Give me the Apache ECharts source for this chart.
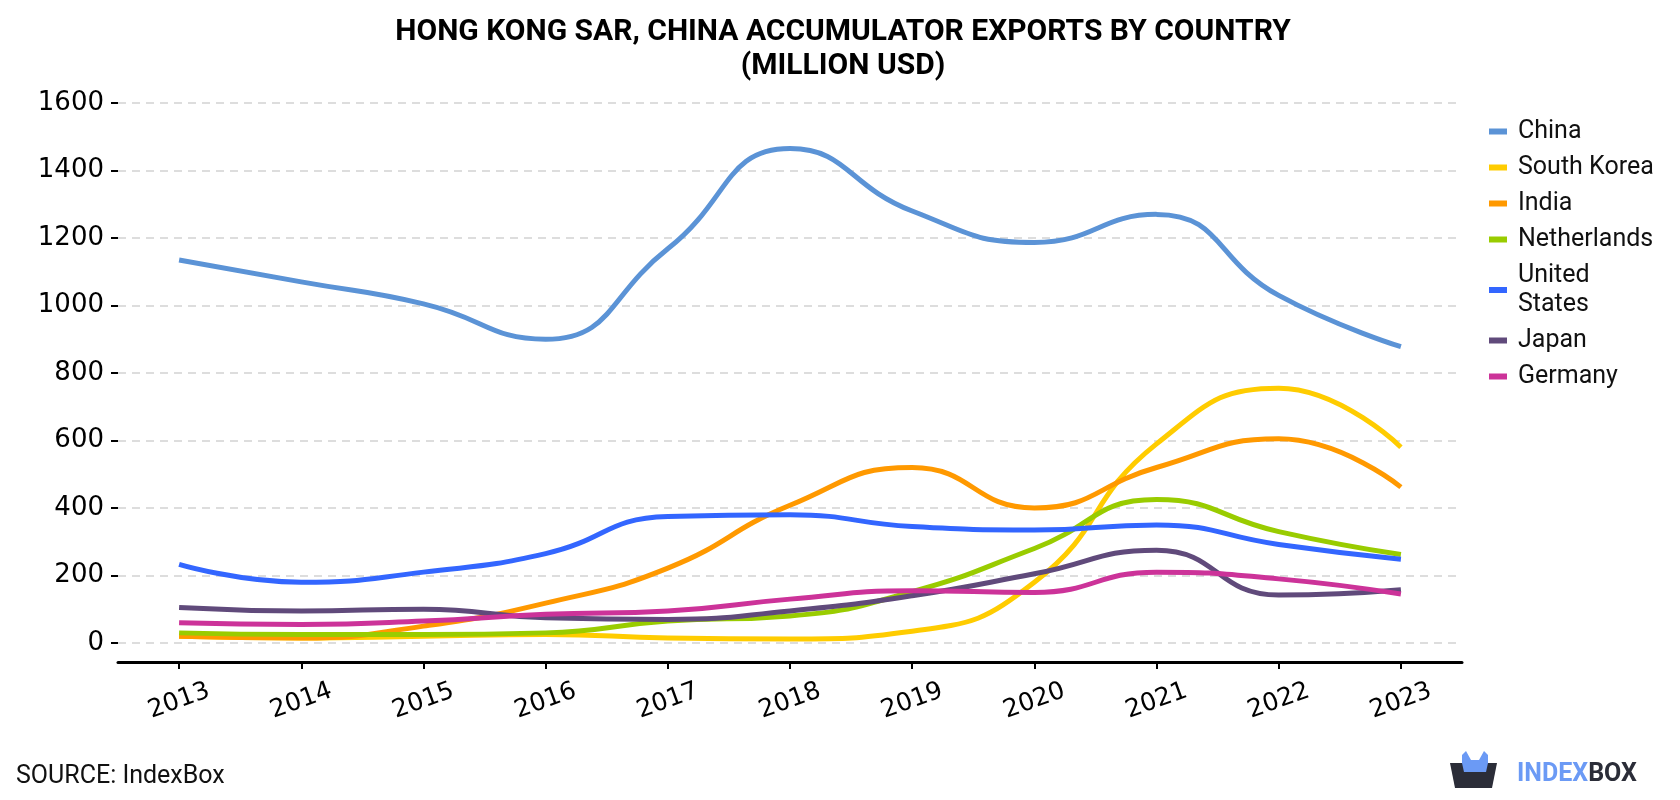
<!DOCTYPE html>
<html><head><meta charset="utf-8">
<script src="https://cdn.jsdelivr.net/npm/echarts@6/dist/echarts.min.js"></script>
<style>html,body{margin:0;padding:0;background:#fff}#c{width:1680px;height:800px}</style>
</head><body><div id="c"></div>
<script>
const years = ['2013','2014','2015','2016','2017','2018','2019','2020','2021','2022','2023'];
const yTicks = [0,200,400,600,800,1000,1200,1400,1600];
const china       = [1135,1070,1005,900,1168,1465,1280,1187,1270,1030,878];
const southKorea  = [20,15,20,25,15,12,35,180,590,755,580];
const india       = [20,15,50,118,222,408,520,400,520,605,462];
const netherlands = [30,25,25,30,65,80,152,280,425,330,262];
const us          = [233,180,210,265,375,380,345,335,350,292,248];
const japan       = [105,95,100,75,70,95,140,205,275,142,158];
const germany     = [60,55,65,85,95,130,155,150,210,190,145];

const seriesDefs = [
  ['China', china, '#5b93d6'],
  ['South Korea', southKorea, '#ffcc00'],
  ['India', india, '#ff9900'],
  ['Netherlands', netherlands, '#99cc00'],
  ['United States', us, '#3366ff'],
  ['Japan', japan, '#604a7b'],
  ['Germany', germany, '#cc3399']
];

const chart = echarts.init(document.getElementById('c'), null, {renderer:'canvas'});
chart.setOption({
  backgroundColor:'#fff',
  animation:false,
  title:{
    text:'HONG KONG SAR, CHINA ACCUMULATOR EXPORTS BY COUNTRY\n(MILLION USD)',
    left:838, top:10, textAlign:'center',
    textStyle:{fontFamily:'Roboto', fontWeight:'bold', fontSize:30, lineHeight:34, color:'#000'}
  },
  legend:{
    orient:'vertical', left:1484, top:112, itemWidth:18, itemHeight:6, itemGap:7,
    icon:'rect',
    formatter: n => n.replace(' States','\nStates'),
    textStyle:{fontFamily:'Roboto', fontSize:25, lineHeight:29, color:'#111', padding:[0,0,0,6]},
    data: seriesDefs.map(s=>s[0])
  },
  grid:{left:118, right:218, top:103, bottom:157, containLabel:false},
  xAxis:{
    type:'category', data:years, boundaryGap:true, offset:19,
    axisLine:{show:true, onZero:false, lineStyle:{color:'#000', width:3}},
    axisTick:{show:true, alignWithLabel:true, length:7, lineStyle:{color:'#000', width:2}},
    axisLabel:{rotate:20, align:'center', verticalAlign:'middle', fontFamily:'DejaVu Sans', fontSize:25, color:'#000', margin:39},
    splitLine:{show:false}
  },
  yAxis:{
    type:'value', min:yTicks[0], max:yTicks[yTicks.length-1], interval:200,
    axisLine:{show:false},
    axisTick:{show:true, length:7, lineStyle:{color:'#000', width:2}},
    axisLabel:{fontFamily:'DejaVu Sans', fontSize:26, color:'#000', margin:14, formatter: v => String(v)},
    splitLine:{show:true, lineStyle:{color:'#dddddd', width:2, type:[8,6]}}
  },
  series: seriesDefs.map(s=>({
    name:s[0], type:'line', data:s[1], smooth:0.5, symbol:'none',
    lineStyle:{color:s[2], width:5}, itemStyle:{color:s[2]}
  })),
  graphic:[
    {type:'text', left:16, top:764, style:{text:'SOURCE: IndexBox', fontFamily:'Roboto', fontSize:25, fill:'#111'}},
    {type:'polygon', shape:{points:[[1462,772],[1462,755],[1466,751],[1471,760],[1479,760],[1484,751],[1488,755],[1488,763]]}, style:{fill:'#6b9af5'}},
    {type:'polygon', shape:{points:[[1450,763],[1497,763],[1492,788],[1455,788]]}, style:{fill:'#2b2d38'}},
    {type:'polygon', shape:{points:[[1462,763],[1488,763],[1486,772],[1464,772]]}, style:{fill:'#6b9af5'}},
    {type:'text', left:1517, top:762, style:{rich:{a:{fill:'#6b9af5', fontFamily:'Roboto', fontWeight:'bold', fontSize:25},b:{fill:'#2b2d38', fontFamily:'Roboto', fontWeight:'bold', fontSize:25}}, text:'{a|INDEX}{b|BOX}'}}
  ]
});
</script></body></html>
